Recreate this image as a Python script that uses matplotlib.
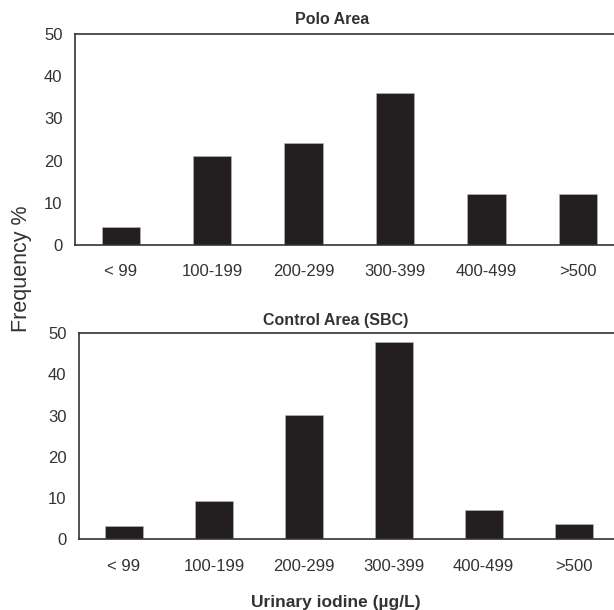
import matplotlib
matplotlib.use("Agg")
import matplotlib.pyplot as plt

categories = ["< 99", "100-199", "200-299", "300-399", "400-499", ">500"]
polo_values = [4.2, 21.1, 24.1, 36.0, 12.2, 12.2]
control_values = [3.2, 9.2, 30.1, 48.0, 7.2, 3.7]
yticks = [0, 10, 20, 30, 40, 50]
titles = ["Polo Area", "Control Area (SBC)"]

plt.rcParams['font.family'] = ['Liberation Sans', 'DejaVu Sans']
W, H = 614, 610
fig = plt.figure(figsize=(W / 100, H / 100), dpi=100)

bar_color = "#231f20"
spine_color = "#333333"
text_color = "#333333"

def px_axes(left, right, top, bottom):
    return [left / W, 1 - bottom / H, (right - left) / W, (bottom - top) / H]

ax1 = fig.add_axes(px_axes(75, 623.5, 34, 245))
ax2 = fig.add_axes(px_axes(79, 618.6, 333.3, 539.3))

for ax, vals in [(ax1, polo_values), (ax2, control_values)]:
    x = list(range(len(categories)))
    ax.bar(x, vals, width=0.42, color=bar_color, edgecolor="#bbbbbb", linewidth=0.4)
    ax.set_xlim(-0.5, len(categories) - 0.5)
    ax.set_ylim(0, 50)
    ax.set_yticks(yticks)
    ax.set_xticks(x)
    ax.set_xticklabels(categories)
    ax.tick_params(axis='x', length=0, pad=14, labelsize=12, colors=text_color)
    ax.tick_params(axis='y', length=0, pad=9, labelsize=12, colors=text_color)
    for s in ["left", "top", "bottom", "right"]:
        ax.spines[s].set_color(spine_color)
        ax.spines[s].set_linewidth(1.2)

fig.text(332 / W, 1 - 19 / H, titles[0], ha='center', va='center',
         fontsize=11.5, fontweight='bold', color=text_color)
fig.text(336 / W, 1 - 321 / H, titles[1], ha='center', va='center',
         fontsize=11.5, fontweight='bold', color=text_color)
fig.text(22 / W, 1 - 269 / H, "Frequency %", rotation=90, ha='center', va='center',
         fontsize=15.5, color=text_color)
fig.text(336 / W, 1 - 602 / H, "Urinary iodine (µg/L)", ha='center', va='center',
         fontsize=12.5, fontweight='bold', color=text_color)

fig.savefig("out.png", dpi=100)
